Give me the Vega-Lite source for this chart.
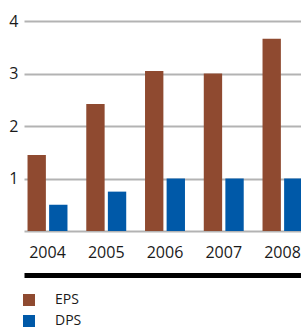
{
  "$schema": "https://vega.github.io/schema/vega-lite/v6.json",
  "autosize": {"type": "none"},
  "padding": {"left": 24, "top": 21, "right": 0, "bottom": 97},
  "width": 277,
  "height": 210,
  "config": {"view": {"stroke": null}, "font": "Open Sans"},
  "data": {
    "values": [
      {"year": "2004", "series": "EPS", "value": 1.45},
      {"year": "2004", "series": "DPS", "value": 0.5},
      {"year": "2005", "series": "EPS", "value": 2.42},
      {"year": "2005", "series": "DPS", "value": 0.75},
      {"year": "2006", "series": "EPS", "value": 3.05},
      {"year": "2006", "series": "DPS", "value": 1.0},
      {"year": "2007", "series": "EPS", "value": 3.0},
      {"year": "2007", "series": "DPS", "value": 1.0},
      {"year": "2008", "series": "EPS", "value": 3.66},
      {"year": "2008", "series": "DPS", "value": 1.0}
    ]
  },
  "mark": {"type": "bar"},
  "encoding": {
    "x": {
      "field": "year",
      "type": "ordinal",
      "scale": {"range": [0, 282], "paddingInner": 0.32, "paddingOuter": 0.06},
      "axis": {
        "title": null,
        "labelAngle": 0,
        "ticks": false,
        "domain": true,
        "domainColor": "#000000",
        "domainWidth": 5,
        "offset": 44,
        "labelPadding": -31,
        "labelFontSize": 16,
        "labelColor": "#1a1a1a",
        "grid": false
      }
    },
    "xOffset": {
      "field": "series",
      "sort": ["EPS", "DPS"],
      "scale": {"paddingInner": 0.15}
    },
    "y": {
      "field": "value",
      "type": "quantitative",
      "scale": {"domain": [0, 4]},
      "axis": {
        "title": null,
        "values": [0, 1, 2, 3, 4],
        "labelExpr": "datum.value == 0 ? '' : datum.label",
        "domain": false,
        "ticks": false,
        "grid": true,
        "gridColor": "#b3b3b3",
        "gridWidth": 2,
        "labelPadding": 6,
        "labelFontSize": 16,
        "labelColor": "#1a1a1a"
      }
    },
    "color": {
      "field": "series",
      "type": "nominal",
      "scale": {"domain": ["EPS", "DPS"], "range": ["#8f4a30", "#0059a8"]},
      "legend": {
        "title": null,
        "orient": "none",
        "legendX": -2,
        "legendY": 272,
        "direction": "vertical",
        "symbolType": "square",
        "symbolSize": 144,
        "symbolStrokeWidth": 0,
        "labelFontSize": 14,
        "labelColor": "#1a1a1a",
        "labelOffset": 19,
        "rowPadding": 7,
        "padding": 0
      }
    }
  }
}
